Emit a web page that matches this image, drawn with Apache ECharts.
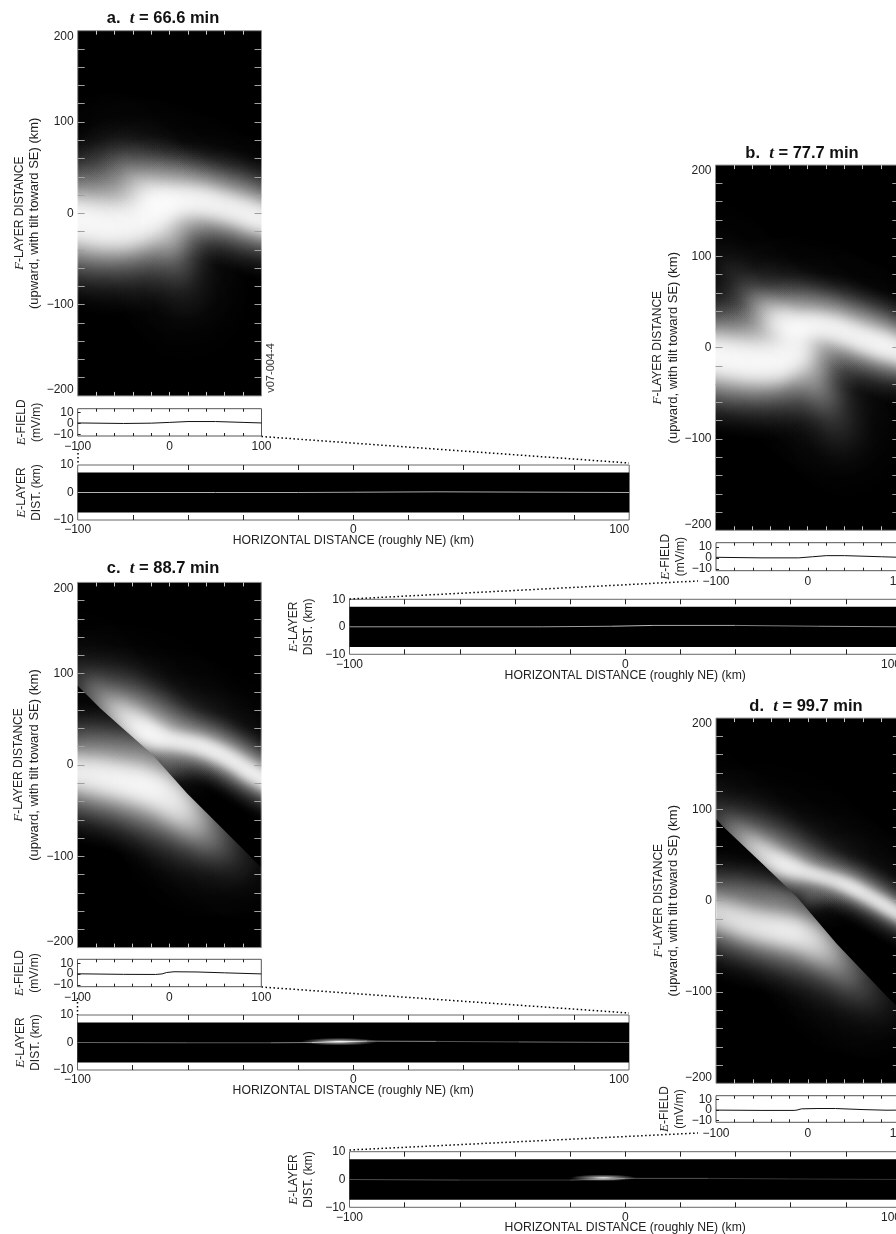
<!DOCTYPE html>
<html><head><meta charset="utf-8">
<style>html,body{margin:0;padding:0;background:#fff}#c{width:896px;height:1234px}</style>
<script src="https://cdn.jsdelivr.net/npm/echarts@6/dist/echarts.min.js"></script>
</head><body><div id="c"></div>
<script>
// ---- axis values ----
const mainXTicks=[-80,-60,-40,-20,0,20,40,60,80];
const mainYTicks=[-180,-160,-140,-120,-100,-80,-60,-40,-20,0,20,40,60,80,100,120,140,160,180];
const mainYLabels=[-200,-100,0,100,200];
const xLabels=[-100,0,100];
const fieldYTicks=[-10,0,10];
const elayerYLabels=[-10,0,10];
const elayerImageExtent=[-7.3,7.3];
// ---- F-layer bands: [x km, y km, brightness 0-1, half-thickness km] ----
const a_lower=[[-135,-4,.97,14],[-115,-6,.97,14],[-95,-9,.97,14],[-75,-13,.97,15],[-55,-15,.97,15],[-35,-11,.97,15],[-20,-3,.96,13],[-10,6,.92,12]];
const a_tail=[[0,-28,.45,13],[8,-50,.28,15],[14,-72,.16,17],[18,-95,.08,18]];
const a_upper=[[-70,66,.1,15],[-56,52,.18,14],[-42,38,.35,13],[-28,24,.65,12],[-14,14,.9,11],[2,13,.94,10],[18,14,.94,10],[35,13,.94,10],[52,9,.94,10],[70,4,.94,10],[88,-2,.94,10],[105,-8,.94,10],[125,-15,.94,10]];
const a_halo=[[-40,60,.1,16],[-10,50,.16,14],[20,42,.16,13],[50,36,.14,13],[80,26,.12,13],[110,14,.1,13]];
const a_glow=[[-115,38,.06,15],[-90,40,.06,15],[-65,38,.06,15]];

const b_lower=[[-135,-6,.97,13],[-115,-8,.97,13],[-97,-10,.97,13],[-78,-13,.97,13],[-60,-16,.97,13],[-42,-17,.97,13],[-26,-14,.97,13],[-12,-5,.94,12]];
const b_tail=[[4,-25,.5,13],[14,-46,.4,14],[24,-64,.28,15],[33,-84,.16,16],[42,-105,.07,16]];
const b_upper=[[-92,94,.08,13],[-74,72,.15,12],[-58,55,.3,11],[-44,41,.55,11],[-28,28,.9,11],[-13,20,.96,10],[4,24,.94,9],[24,22,.94,9],[43,16,.94,9],[62,9,.94,9],[80,3,.94,9],[98,-3,.94,9],[120,-12,.94,9]];
const b_halo=[[-30,58,.08,14],[0,52,.16,13],[30,44,.2,12],[60,31,.18,12],[90,17,.14,12],[120,6,.1,12]];

const c_lower=[[-135,-4,.88,12],[-115,-7,.9,12],[-98,-9,.92,12],[-78,-12,.94,12],[-58,-16,.95,12],[-38,-20,.96,12],[-20,-25,.96,12],[-4,-33,.94,13],[10,-46,.88,13],[24,-60,.72,14],[38,-75,.5,15],[52,-88,.3,15],[66,-101,.16,15],[80,-115,.07,15]];
const c_glow=[[-100,30,.12,15],[-70,28,.16,15],[-40,22,.2,13],[-15,12,.25,11]];
const c_upper=[[-100,100,.16,13],[-84,84,.32,12],[-70,70,.5,12],[-56,59,.72,11],[-42,48,.88,10],[-28,38,.97,9],[-14,31,.96,8],[2,27,.9,6.5],[18,24,.9,6.5],[35,20,.92,6.5],[52,13,.92,6.5],[70,4,.92,6.5],[88,-8,.92,6.5],[105,-17,.92,6.5],[125,-30,.92,6.5]];
const c_halo=[[-60,85,.12,15],[-30,72,.2,15],[0,58,.22,13],[30,48,.18,13],[60,32,.14,13],[90,14,.12,13],[120,-2,.1,13]];
const c_inner=[[-5,-6,.28,9],[10,-5,.16,10],[25,-6,.08,10]];
const c_cut=[[-130,117],[-75,62],[-18,11],[19,-31],[77,-89],[130,-143]];

const d_lower=[[-135,-5,.78,11],[-116,-9,.8,11],[-99,-14,.82,11],[-82,-19,.86,11],[-66,-25,.88,11],[-48,-29,.9,11],[-30,-32,.92,11],[-14,-35,.92,11],[2,-42,.88,12],[14,-52,.75,13],[26,-62,.6,13],[40,-78,.42,14],[54,-94,.27,15],[68,-107,.15,15],[82,-120,.07,15]];
const d_glow=[[-95,15,.12,12],[-66,14,.18,12],[-40,8,.2,10],[-18,2,.2,8]];
const d_upper=[[-110,108,.12,13],[-92,88,.24,12],[-78,75,.4,11],[-63,63,.62,10],[-48,52,.84,9],[-30,41,.95,8],[-14,35,.9,7],[2,30,.84,5.5],[16,26,.84,5.5],[32,21,.86,5.5],[46,15,.86,5.5],[60,8,.88,5.5],[78,-2,.88,5.5],[95,-12,.88,5.5],[115,-24,.88,5.5]];
const d_halo=[[-60,80,.12,14],[-30,68,.18,15],[0,56,.16,13],[30,44,.14,13],[60,28,.1,13],[90,12,.08,13]];
const d_inner=[[2,2,.25,8],[15,3,.14,8],[30,0,.07,8]];
const d_cut=[[-130,122],[-92,81],[-50,41],[-12,4],[31,-47],[86,-105],[130,-148]];

// ---- E-field curves: [x km, mV/m] ----
const a_field=[[-100,.5],[-50,0],[-20,.3],[0,1],[20,1.8],[50,1.8],[80,1],[100,.5]];
const b_field=[[-100,.5],[-50,0],[-10,0],[5,1],[20,2],[40,2],[60,1.5],[80,1],[100,.5]];
const c_field=[[-100,.3],[-50,-.2],[-15,-.3],[-8,.2],[-3,1.5],[5,2.2],[30,2],[60,1.2],[100,.2]];
const d_field=[[-100,0],[-50,-.3],[-15,-.3],[-12,0],[-7,1.2],[10,1.5],[30,1.5],[60,.5],[85,-.1],[100,0]];

// ---- E-layer filament: [x km, y km, brightness] and bright spots: [x, y, brightness, half-length km, half-thickness km] ----
const a_sheet=[[-100,0,.7],[-50,0,.7],[-20,0,.65],[0,.1,.65],[30,.25,.7],[60,.15,.65],[100,0,.7]];
const b_sheet=[[-100,0,.7],[-30,0,.55],[-5,.2,.7],[10,.5,.75],[40,.5,.55],[70,.2,.45],[100,0,.7]];
const c_sheet=[[-100,0,.5],[-60,-.1,.3],[-30,-.1,.4],[-15,0,.6],[-5,.3,.8],[5,.5,.7],[30,.4,.35],[60,.2,.3],[100,0,.6]];
const d_sheet=[[-100,0,.4],[-60,-.2,.2],[-20,-.2,.25],[-5,.1,.45],[0,.4,.4],[30,.4,.25],[60,.2,.2],[100,0,.2]];
const c_spots=[[-5,.3,.95,14,1.4]];
const d_spots=[[-8,.6,.95,12,1.2]];

const panels=[
 {title:'a.  ',time:'t',rest:' = 66.6 min',tx:163,ty:10,
  main:[77.7,30.7,183.8,365.2],field:[77.7,408.7,183.8,27.3],layer:[77.7,465,551.5,55],
  gaps:[36,34,34],xGap:15,bands:[[a_glow],[a_lower],[a_tail],[a_upper],[a_halo]],fieldData:a_field,sheet:a_sheet,spots:[],
  dots:[[[261.5,436.5],[629,463]],[[78,449],[78,465]]]},
 {title:'b.  ',time:'t',rest:' = 77.7 min',tx:802,ty:145,
  main:[715.5,165.1,183.8,365.2],field:[716,542.7,183.8,28],layer:[349.5,599.3,551.5,55],
  gaps:[35,28,25],xGap:15,bands:[[b_lower],[b_tail],[b_upper],[b_halo]],fieldData:b_field,sheet:b_sheet,spots:[],
  dots:[[[349.5,599],[698,581]]]},
 {title:'c.  ',time:'t',rest:' = 88.7 min',tx:163,ty:560,
  main:[77.5,582.4,183.8,365.2],field:[77.5,959.3,183.8,27.4],layer:[77.5,1015,551.5,55],
  gaps:[36,35,34],xGap:15,bands:[[c_lower,'lower',c_cut],[c_glow,'lower',c_cut],[c_upper,'upper',c_cut],[c_halo,'upper',c_cut],[c_inner,'upper',c_cut]],fieldData:c_field,sheet:c_sheet,spots:c_spots,
  dots:[[[261.5,987],[629,1013]],[[77.5,998],[77.5,1015]]]},
 {title:'d.  ',time:'t',rest:' = 99.7 min',tx:806,ty:698,
  main:[716,718.1,183.8,365.2],field:[716,1095.7,183.8,26.6],layer:[349.5,1151.7,551.5,55.6],
  gaps:[35,29,30],xGap:14,bands:[[d_lower,'lower',d_cut],[d_glow,'lower',d_cut],[d_upper,'upper',d_cut],[d_halo,'upper',d_cut],[d_inner,'upper',d_cut]],fieldData:d_field,sheet:d_sheet,spots:d_spots,
  dots:[[[349.5,1150],[698,1133]]]}
];

const FONT='"Liberation Sans",Arial,Helvetica,sans-serif';
const SIZE=12;
const minus=v=>v<0?'\u2212'+(-v):String(v);
const nameRich={i:{fontFamily:'"Liberation Serif",serif',fontStyle:'italic',fontSize:13,color:'#222',lineHeight:15},
                n:{fontFamily:FONT,fontSize:SIZE,color:'#222',lineHeight:15},
                w:{fontFamily:FONT,fontSize:13,color:'#222',lineHeight:15}};
const labelBase={fontFamily:FONT,fontSize:SIZE,color:'#222',formatter:minus,hideOverlap:false,interval:0};
const STOPS=[0,.03,.06,.09,.12,.15,.18,.22,.26,.31,.36,.42,.5,.6,.72,.85,1];
const REACH=6.6, SKIRT=2.2, SKIRT_SHARE=.25, PROFILE_AREA=(1-SKIRT_SHARE)+SKIRT_SHARE*SKIRT;
// brightness is laid down as optical density, so overlapping kernels accumulate smoothly toward white
function density(v){return -Math.log(1-Math.min(v,.985));}
function kernel(k){
  return new echarts.graphic.RadialGradient(.5,.5,.5,STOPS.map(t=>{
    const r=t*REACH;
    const shape=(1-SKIRT_SHARE)*Math.exp(-r*r/2)+SKIRT_SHARE*Math.exp(-r*r/(2*SKIRT*SKIRT));
    const a=t>=1?0:1-Math.exp(-k*shape);
    return {offset:t,color:'rgba(255,255,255,'+a.toFixed(4)+')'};
  }));
}
const grids=[],xAxes=[],yAxes=[],series=[],titles=[];
function addGrid(rect,bg,border){
  grids.push({show:true,left:rect[0],top:rect[1],width:rect[2],height:rect[3],backgroundColor:bg,borderColor:border,borderWidth:1,containLabel:false,outerBoundsMode:'none'});
  return grids.length-1;
}
function addX(g,pos,ticks,len,color,extra){
  xAxes.push(Object.assign({type:'value',gridIndex:g,min:-100,max:100,position:pos,z:10,
    axisLine:{show:false,onZero:false},splitLine:{show:false},axisLabel:{show:false},
    axisTick:{show:true,inside:true,length:len,customValues:ticks,lineStyle:{color:color,width:1}}},extra||{}));
  return xAxes.length-1;
}
function addY(g,pos,min,max,ticks,len,color,extra){
  yAxes.push(Object.assign({type:'value',gridIndex:g,min:min,max:max,position:pos,z:10,
    axisLine:{show:false,onZero:false},splitLine:{show:false},axisLabel:{show:false},
    axisTick:{show:ticks.length>0,inside:true,length:len,customValues:ticks,lineStyle:{color:color,width:1}}},extra||{}));
  return yAxes.length-1;
}
function bandSeries(points,side,cut,xi,yi){
  const rows=points.map((p,i)=>{
    const prev=points[Math.max(i-1,0)],next=points[Math.min(i+1,points.length-1)];
    const span=Math.hypot(next[0]-prev[0],next[1]-prev[1])/((i>0&&i<points.length-1)?2:1);
    const tilt=Math.atan2(next[1]-prev[1],next[0]-prev[0]);
    return [p[0],p[1],p[2],p[3],span,tilt];
  });
  return {type:'custom',coordinateSystem:'cartesian2d',xAxisIndex:xi,yAxisIndex:yi,clip:true,silent:true,animation:false,
    z:2,data:rows,encode:{x:0,y:1},
    renderItem:(params,api)=>{
      const c=api.coord([api.value(0),api.value(1)]);
      const across=api.value(3),span=api.value(4);
      const along=Math.max(across,span*.6);
      const k=density(api.value(2))*span/(along*PROFILE_AREA*2.5066);
      const pxPerKm=api.size([1,1]);
      const circle={type:'circle',x:c[0],y:c[1],rotation:api.value(5),
        scaleX:REACH*along*pxPerKm[0]/100,scaleY:REACH*across*pxPerKm[1]/100,
        shape:{cx:0,cy:0,r:100},style:{fill:kernel(k)}};
      const out={type:'group',children:[circle]};
      if(cut){
        const far=side==='upper'?400:-400;
        const poly=cut.map(q=>api.coord(q));
        poly.push(api.coord([cut[cut.length-1][0],far]),api.coord([cut[0][0],far]));
        out.clipPath={type:'polygon',shape:{points:poly}};
      }
      return out;
    }};
}
const graphicEls=[];
panels.forEach(p=>{
  titles.push({text:'{n|'+p.title+'}{i|'+p.time+'}{n|'+p.rest+'}',left:p.tx,top:p.ty,textAlign:'center',padding:0,
    textStyle:{rich:{n:{fontFamily:FONT,fontWeight:'bold',fontSize:16.5,color:'#111'},
                     i:{fontFamily:'"Liberation Serif",serif',fontWeight:'bold',fontStyle:'italic',fontSize:17,color:'#111'}}}});
  // main image
  let g=addGrid(p.main,'#000','#8a8a8a');
  const mx=addX(g,'bottom',mainXTicks,4,'#c8c8c8');
  addX(g,'top',mainXTicks,4,'#c8c8c8');
  const my=addY(g,'left',-200,200,mainYTicks,7,'#a0a0a0',{
    axisLabel:{show:true,customValues:mainYLabels,margin:4,verticalAlignMinLabel:'bottom',verticalAlignMaxLabel:'top',...labelBase},
    name:'{i|F}{n|-LAYER DISTANCE}\n{w|(upward, with tilt toward SE) (km)}',nameLocation:'middle',nameRotate:90,nameGap:p.gaps[0],
    nameTextStyle:{rich:nameRich,align:'center'}});
  addY(g,'right',-200,200,mainYTicks,7,'#a0a0a0');
  p.bands.forEach(b=>series.push(bandSeries(b[0],b[1],b[2],mx,my)));
  // E-field
  g=addGrid(p.field,'#fff','#555');
  const fx=addX(g,'bottom',mainXTicks,3,'#222',{
    axisLabel:{show:true,customValues:xLabels,margin:5,...labelBase}});
  addX(g,'top',mainXTicks,3,'#222');
  const fy=addY(g,'left',-11.6,13.7,fieldYTicks,3,'#222',{
    axisLabel:{show:true,customValues:fieldYTicks.filter(v=>v!==0),margin:4,...labelBase},
    name:'{i|E}{n|-FIELD}\n{n|(mV/m)}',nameLocation:'middle',nameRotate:90,nameGap:p.gaps[1],
    nameTextStyle:{rich:nameRich,align:'center'}});
  addY(g,'left',-11.6,13.7,[],0,'#222',{axisLabel:{show:true,customValues:fieldYTicks.filter(v=>v===0),margin:4,...labelBase}});
  series.push({type:'line',xAxisIndex:fx,yAxisIndex:fy,data:p.fieldData,showSymbol:false,silent:true,animation:false,
    lineStyle:{color:'#111',width:1},clip:true});
  // E-layer
  g=addGrid(p.layer,'#fff','#666');
  const lx=addX(g,'bottom',mainXTicks,5,'#222',{
    axisLabel:{show:true,customValues:xLabels,margin:4,alignMaxLabel:'right',...labelBase},
    name:'HORIZONTAL DISTANCE (roughly NE) (km)',nameLocation:'middle',nameGap:p.xGap,nameMoveOverlap:false,
    nameTextStyle:{fontFamily:FONT,fontSize:12.2,color:'#222',verticalAlign:'top'}});
  addX(g,'top',mainXTicks,5,'#222');
  const ly=addY(g,'left',-10,10,[],0,'#222',{
    axisLabel:{show:true,customValues:elayerYLabels,margin:4,...labelBase},
    name:'{i|E}{n|-LAYER}\n{n|DIST. (km)}',nameLocation:'middle',nameRotate:90,nameGap:p.gaps[2],
    nameTextStyle:{rich:nameRich,align:'center'}});
  series.push({type:'custom',coordinateSystem:'cartesian2d',xAxisIndex:lx,yAxisIndex:ly,silent:true,animation:false,clip:true,z:2,
    data:[[-100,elayerImageExtent[0],100,elayerImageExtent[1]]],encode:{x:[0,2],y:[1,3]},
    renderItem:(params,api)=>{
      const a=api.coord([api.value(0),api.value(3)]),b=api.coord([api.value(2),api.value(1)]);
      return {type:'rect',shape:{x:a[0],y:a[1],width:b[0]-a[0],height:b[1]-a[1]},style:{fill:'#000'}};
    }});
  const segs=p.sheet.slice(0,-1).map((q,i)=>[q[0],q[1],p.sheet[i+1][0],p.sheet[i+1][1],(q[2]+p.sheet[i+1][2])/2]);
  series.push({type:'custom',coordinateSystem:'cartesian2d',xAxisIndex:lx,yAxisIndex:ly,silent:true,animation:false,clip:true,z:3,
    data:segs,encode:{x:[0,2],y:[1,3]},
    renderItem:(params,api)=>{
      const a=api.coord([api.value(0),api.value(1)]),b=api.coord([api.value(2),api.value(3)]);
      const v=Math.round(api.value(4)*255);
      return {type:'line',shape:{x1:a[0],y1:a[1],x2:b[0],y2:b[1]},style:{stroke:'rgb('+v+','+v+','+v+')',lineWidth:1}};
    }});
  if(p.spots.length){
    series.push({type:'custom',coordinateSystem:'cartesian2d',xAxisIndex:lx,yAxisIndex:ly,silent:true,animation:false,clip:true,z:4,
      data:p.spots,encode:{x:0,y:1},
      renderItem:(params,api)=>{
        const c=api.coord([api.value(0),api.value(1)]);
        const sz=api.size([api.value(3),api.value(4)]);
        return {type:'circle',x:c[0],y:c[1],scaleX:sz[0]/100,scaleY:sz[1]/100,shape:{cx:0,cy:0,r:100},
          style:{fill:new echarts.graphic.RadialGradient(.5,.5,.5,[{offset:0,color:'rgba(255,255,255,'+api.value(2)+')'},{offset:.35,color:'rgba(255,255,255,'+api.value(2)*.55+')'},{offset:1,color:'rgba(255,255,255,0)'}])}};
      }});
  }
  p.dots.forEach(d=>graphicEls.push({type:'line',silent:true,z:20,
    shape:{x1:d[0][0],y1:d[0][1],x2:d[1][0],y2:d[1][1]},
    style:{stroke:'#000',lineWidth:1.5,lineDash:[1.5,2.5]}}));
});
graphicEls.push({type:'text',x:271,y:368,rotation:Math.PI/2,silent:true,
  style:{text:'v07-004-4',font:'11px '+FONT,fill:'#333',textAlign:'center',textVerticalAlign:'middle'}});
const chart=echarts.init(document.getElementById('c'),null,{renderer:'canvas',width:896,height:1234});
chart.setOption({animation:false,backgroundColor:'#fff',title:titles,grid:grids,xAxis:xAxes,yAxis:yAxes,series:series,graphic:graphicEls});
</script></body></html>
